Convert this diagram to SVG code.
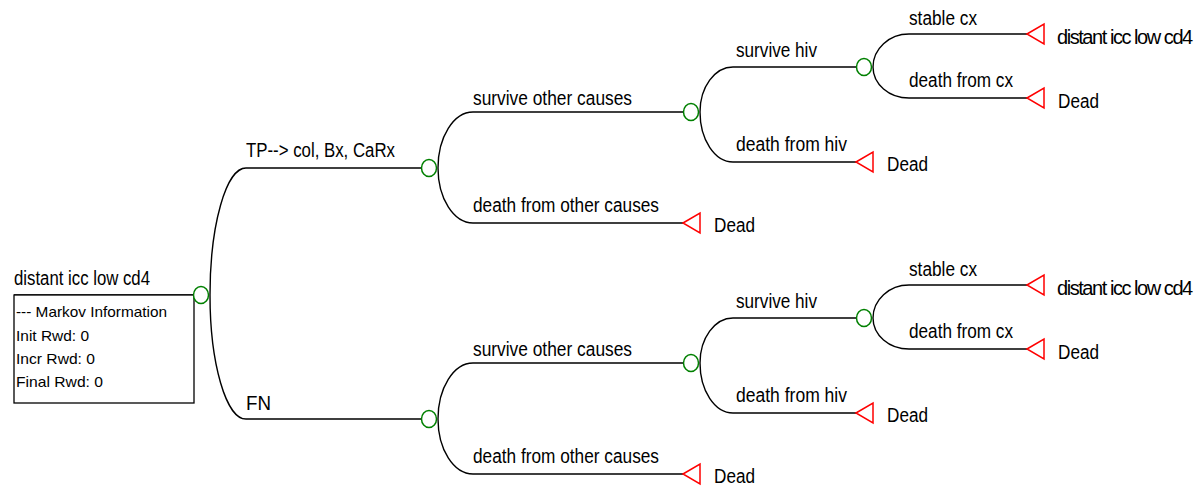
<svg xmlns="http://www.w3.org/2000/svg" width="1201" height="491" viewBox="0 0 1201 491">
  <style>
    .wire { fill: none; stroke: #000; stroke-width: 1.4; }
    .chance { fill: #fff; stroke: #008000; stroke-width: 1.5; }
    .term { fill: #fff; stroke: #ff0000; stroke-width: 1.5; }
    .box { fill: #fff; stroke: #000; stroke-width: 1.3; }
    text { font-family: "Liberation Sans", Arial, sans-serif; fill: #000; }
    .lbl { font-size: 20px; }
    .tight { letter-spacing: -1.45px; }
    .info { font-size: 14.5px; }
  </style>
  <defs>
    <ellipse id="chance" class="chance" cx="0" cy="0" rx="7.5" ry="8.5"/>
    <polygon id="term" class="term" points="0,0 17,-10 17,10"/>
  </defs>
  <rect width="1201" height="491" fill="#fff"/>

  <!-- branches of the tree -->
  <g id="connectors">
    <path class="wire" d="M14 295 H193"/>
    <path class="wire" d="M210 295 A36 127 0 0 1 246 168 H421"/>
    <path class="wire" d="M210 295 A36 124 0 0 0 246 419 H421"/>

    <path class="wire" d="M438 168 A35 56 0 0 1 473 112 H683"/>
    <path class="wire" d="M438 168 A35 55 0 0 0 473 223 H683"/>
    <path class="wire" d="M700 112 A33 45 0 0 1 733 67 H856"/>
    <path class="wire" d="M700 112 A33 50 0 0 0 733 162 H856"/>
    <path class="wire" d="M873 67 A36 33 0 0 1 909 34 H1027"/>
    <path class="wire" d="M873 67 A36 31 0 0 0 909 98 H1027"/>

    <path class="wire" d="M438 419 A35 56 0 0 1 473 363 H683"/>
    <path class="wire" d="M438 419 A35 55 0 0 0 473 474 H683"/>
    <path class="wire" d="M700 363 A33 45 0 0 1 733 318 H856"/>
    <path class="wire" d="M700 363 A33 50 0 0 0 733 413 H856"/>
    <path class="wire" d="M873 318 A36 33 0 0 1 909 285 H1027"/>
    <path class="wire" d="M873 318 A36 31 0 0 0 909 349 H1027"/>
  </g>

  <!-- branch labels -->
  <g id="branch-labels" class="lbl">
    <text x="246" y="157" textLength="149" lengthAdjust="spacingAndGlyphs">TP--&gt; col, Bx, CaRx</text>
    <text x="246" y="410" textLength="25" lengthAdjust="spacingAndGlyphs">FN</text>

    <text x="473" y="105" textLength="159" lengthAdjust="spacingAndGlyphs">survive other causes</text>
    <text x="473" y="212" textLength="186" lengthAdjust="spacingAndGlyphs">death from other causes</text>
    <text x="736" y="57" textLength="81" lengthAdjust="spacingAndGlyphs">survive hiv</text>
    <text x="736" y="151" textLength="111" lengthAdjust="spacingAndGlyphs">death from hiv</text>
    <text x="909" y="25" textLength="68" lengthAdjust="spacingAndGlyphs">stable cx</text>
    <text x="909" y="87" textLength="104" lengthAdjust="spacingAndGlyphs">death from cx</text>

    <text x="473" y="356" textLength="159" lengthAdjust="spacingAndGlyphs">survive other causes</text>
    <text x="473" y="463" textLength="186" lengthAdjust="spacingAndGlyphs">death from other causes</text>
    <text x="736" y="308" textLength="81" lengthAdjust="spacingAndGlyphs">survive hiv</text>
    <text x="736" y="402" textLength="111" lengthAdjust="spacingAndGlyphs">death from hiv</text>
    <text x="909" y="276" textLength="68" lengthAdjust="spacingAndGlyphs">stable cx</text>
    <text x="909" y="338" textLength="104" lengthAdjust="spacingAndGlyphs">death from cx</text>
  </g>

  <!-- root Markov node with its information box -->
  <g id="root">
    <rect class="box" x="14" y="295" width="180" height="108"/>
    <text class="lbl" x="14" y="285" textLength="136" lengthAdjust="spacingAndGlyphs">distant icc low cd4</text>
    <text class="info" x="16" y="317" textLength="151" lengthAdjust="spacingAndGlyphs">--- Markov Information</text>
    <text class="info" x="16" y="341" textLength="73" lengthAdjust="spacingAndGlyphs">Init Rwd: 0</text>
    <text class="info" x="16" y="364" textLength="79" lengthAdjust="spacingAndGlyphs">Incr Rwd: 0</text>
    <text class="info" x="16" y="387" textLength="87" lengthAdjust="spacingAndGlyphs">Final Rwd: 0</text>
    <use href="#chance" x="201" y="295"/>
  </g>

  <!-- upper subtree -->
  <g id="tp-chance"><use href="#chance" x="429" y="168"/></g>
  <g id="tp-other-chance"><use href="#chance" x="691" y="112"/></g>
  <g id="tp-hiv-chance"><use href="#chance" x="864" y="67"/></g>
  <g id="tp-dead-other">
    <use href="#term" x="683" y="223"/>
    <text class="lbl" x="714" y="232" textLength="41" lengthAdjust="spacingAndGlyphs">Dead</text>
  </g>
  <g id="tp-dead-hiv">
    <use href="#term" x="856" y="162"/>
    <text class="lbl" x="887" y="171" textLength="41" lengthAdjust="spacingAndGlyphs">Dead</text>
  </g>
  <g id="tp-stable">
    <use href="#term" x="1027" y="34"/>
    <text class="lbl tight" x="1057" y="44">distant icc low cd4</text>
  </g>
  <g id="tp-dead-cx">
    <use href="#term" x="1027" y="98"/>
    <text class="lbl" x="1058" y="108" textLength="41" lengthAdjust="spacingAndGlyphs">Dead</text>
  </g>

  <!-- lower subtree -->
  <g id="fn-chance"><use href="#chance" x="429" y="419"/></g>
  <g id="fn-other-chance"><use href="#chance" x="691" y="363"/></g>
  <g id="fn-hiv-chance"><use href="#chance" x="864" y="318"/></g>
  <g id="fn-dead-other">
    <use href="#term" x="683" y="474"/>
    <text class="lbl" x="714" y="483" textLength="41" lengthAdjust="spacingAndGlyphs">Dead</text>
  </g>
  <g id="fn-dead-hiv">
    <use href="#term" x="856" y="413"/>
    <text class="lbl" x="887" y="422" textLength="41" lengthAdjust="spacingAndGlyphs">Dead</text>
  </g>
  <g id="fn-stable">
    <use href="#term" x="1027" y="285"/>
    <text class="lbl tight" x="1057" y="295">distant icc low cd4</text>
  </g>
  <g id="fn-dead-cx">
    <use href="#term" x="1027" y="349"/>
    <text class="lbl" x="1058" y="359" textLength="41" lengthAdjust="spacingAndGlyphs">Dead</text>
  </g>
</svg>
